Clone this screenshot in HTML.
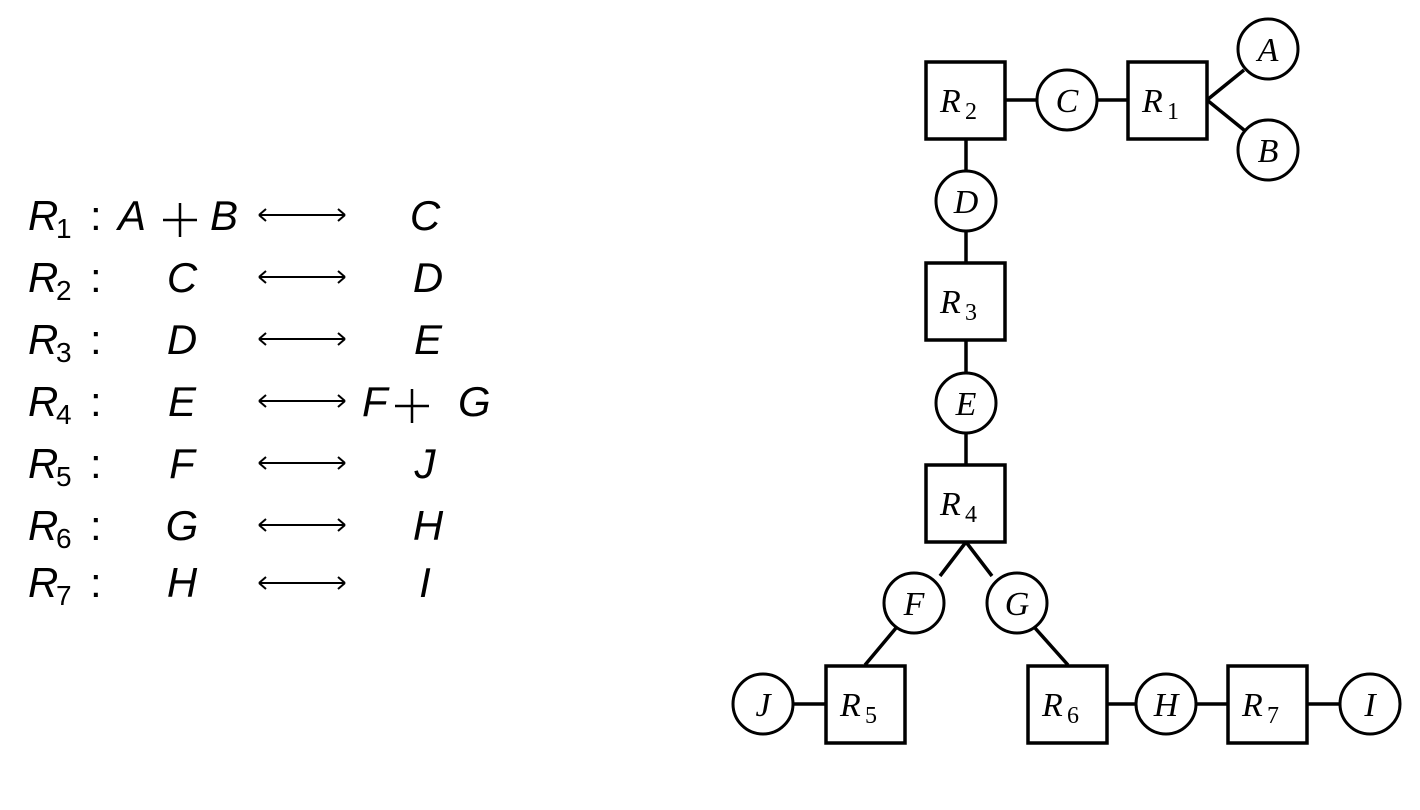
<!DOCTYPE html>
<html><head><style>
body{margin:0;background:#fff;width:1420px;height:810px;overflow:hidden;position:relative}
svg{position:absolute;left:0;top:0}
</style></head><body>
<svg width="1420" height="810" xmlns="http://www.w3.org/2000/svg">
<g font-family="Liberation Sans, sans-serif" font-size="42" fill="#000">
<text x="28" y="230" font-style="italic">R</text><text x="56" y="238" font-size="28">1</text><text x="90" y="230">:</text>
<text x="118" y="230" font-style="italic">A</text><text x="210" y="230" font-style="italic">B</text>
<text x="425" y="230" font-style="italic" text-anchor="middle">C</text>

<text x="28" y="292" font-style="italic">R</text><text x="56" y="300" font-size="28">2</text><text x="90" y="292">:</text>
<text x="182" y="292" font-style="italic" text-anchor="middle">C</text><text x="428" y="292" font-style="italic" text-anchor="middle">D</text>

<text x="28" y="354" font-style="italic">R</text><text x="56" y="362" font-size="28">3</text><text x="90" y="354">:</text>
<text x="182" y="354" font-style="italic" text-anchor="middle">D</text><text x="428" y="354" font-style="italic" text-anchor="middle">E</text>

<text x="28" y="416" font-style="italic">R</text><text x="56" y="424" font-size="28">4</text><text x="90" y="416">:</text>
<text x="182" y="416" font-style="italic" text-anchor="middle">E</text>
<text x="362" y="416" font-style="italic">F</text><text x="458" y="416" font-style="italic">G</text>

<text x="28" y="478" font-style="italic">R</text><text x="56" y="486" font-size="28">5</text><text x="90" y="478">:</text>
<text x="182" y="478" font-style="italic" text-anchor="middle">F</text><text x="425" y="478" font-style="italic" text-anchor="middle">J</text>

<text x="28" y="540" font-style="italic">R</text><text x="56" y="548" font-size="28">6</text><text x="90" y="540">:</text>
<text x="182" y="540" font-style="italic" text-anchor="middle">G</text><text x="428" y="540" font-style="italic" text-anchor="middle">H</text>

<text x="28" y="597" font-style="italic">R</text><text x="56" y="605" font-size="28">7</text><text x="90" y="597">:</text>
<text x="182" y="597" font-style="italic" text-anchor="middle">H</text><text x="425" y="597" font-style="italic" text-anchor="middle">I</text>
</g>
<g stroke="#000" stroke-width="2.5" fill="none">
<path d="M163 220H197M180 203V237"/>
<path d="M395 406H429M412 389V423"/>
</g>
<g stroke="#000" stroke-width="2" fill="none">
<path d="M259 215H345M259 215l7 -6M259 215l7 6M345 215l-7 -6M345 215l-7 6"/>
<path d="M259 277H345M259 277l7 -6M259 277l7 6M345 277l-7 -6M345 277l-7 6"/>
<path d="M259 339H345M259 339l7 -6M259 339l7 6M345 339l-7 -6M345 339l-7 6"/>
<path d="M259 401H345M259 401l7 -6M259 401l7 6M345 401l-7 -6M345 401l-7 6"/>
<path d="M259 463H345M259 463l7 -6M259 463l7 6M345 463l-7 -6M345 463l-7 6"/>
<path d="M259 525H345M259 525l7 -6M259 525l7 6M345 525l-7 -6M345 525l-7 6"/>
<path d="M259 583H345M259 583l7 -6M259 583l7 6M345 583l-7 -6M345 583l-7 6"/>
</g>
<g stroke="#000" stroke-width="3.5" fill="none">
<path d="M1006 100H1036M1097 100H1128M1207 100L1244 70M1207 100L1244 130"/>
<path d="M966 140V170M966 231V262M966 341V372M966 433V464M966 542L940 576M966 542L992 576"/>
<path d="M896 628L865 665M1035 628L1068 665"/>
<path d="M793 704H826M1107 704H1136M1196 704H1228M1307 704H1340"/>
</g>
<g stroke="#000" stroke-width="3.5" fill="#fff">
<rect x="926" y="62" width="79" height="77"/><rect x="1128" y="62" width="79" height="77"/>
<rect x="926" y="263" width="79" height="77"/><rect x="926" y="465" width="79" height="77"/>
<rect x="826" y="666" width="79" height="77"/><rect x="1028" y="666" width="79" height="77"/><rect x="1228" y="666" width="79" height="77"/>
</g>
<g stroke="#000" stroke-width="3" fill="#fff">
<circle cx="1067" cy="100" r="30"/><circle cx="1268" cy="49" r="30"/><circle cx="1268" cy="150" r="30"/>
<circle cx="966" cy="201" r="30"/><circle cx="966" cy="403" r="30"/>
<circle cx="914" cy="603" r="30"/><circle cx="1017" cy="603" r="30"/>
<circle cx="763" cy="704" r="30"/><circle cx="1166" cy="704" r="30"/><circle cx="1370" cy="704" r="30"/>
</g>
<g font-family="Liberation Serif, serif" font-style="italic" font-size="34" fill="#000" text-anchor="middle">
<text x="1067" y="112">C</text><text x="1268" y="61">A</text><text x="1268" y="162">B</text>
<text x="966" y="213">D</text><text x="966" y="415">E</text><text x="914" y="615">F</text><text x="1017" y="615">G</text>
<text x="763" y="716">J</text><text x="1166" y="716">H</text><text x="1370" y="716">I</text>
</g>
<g font-family="Liberation Serif, serif" font-size="34" fill="#000">
<text x="940" y="112" font-style="italic">R</text><text x="965" y="119" font-size="24">2</text>
<text x="1142" y="112" font-style="italic">R</text><text x="1167" y="119" font-size="24">1</text>
<text x="940" y="313" font-style="italic">R</text><text x="965" y="320" font-size="24">3</text>
<text x="940" y="515" font-style="italic">R</text><text x="965" y="522" font-size="24">4</text>
<text x="840" y="716" font-style="italic">R</text><text x="865" y="723" font-size="24">5</text>
<text x="1042" y="716" font-style="italic">R</text><text x="1067" y="723" font-size="24">6</text>
<text x="1242" y="716" font-style="italic">R</text><text x="1267" y="723" font-size="24">7</text>
</g>
</svg>
</body></html>
